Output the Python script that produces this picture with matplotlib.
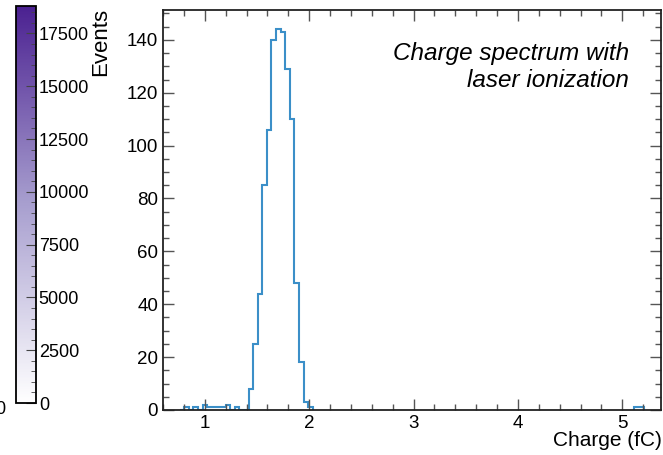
import numpy as np
import matplotlib
matplotlib.use("Agg")
import matplotlib.pyplot as plt
from matplotlib.colors import LinearSegmentedColormap, Normalize
from matplotlib.ticker import MultipleLocator

plt.rcParams['font.family'] = ['Liberation Sans', 'DejaVu Sans']

# histogram contents, bin width 0.044 fC
bin_width = 0.044
first_edge = 0.759
counts = [0, 1, 0, 1, 0, 2, 1, 1, 1, 1, 2, 0, 1, 0, 0,
          8, 25, 44, 85, 106, 140, 144, 143, 129, 110, 48, 18, 3, 1]
tail_edges = [5.115, 5.159, 5.203]
tail_counts = [1, 1]

cbar_max = 18800
cbar_ticks = [0, 2500, 5000, 7500, 10000, 12500, 15000, 17500]

edges = first_edge + bin_width * np.arange(len(counts) + 1)
line_color = '#3b8fc8'

fig = plt.figure(figsize=(6.63, 4.55), dpi=100)
ax = fig.add_axes([163/663, 45/455, 498/663, 400/455])

ax.stairs(counts, edges, color=line_color, lw=1.5, baseline=0)
ax.stairs(tail_counts, tail_edges, color=line_color, lw=1.5, baseline=0)

ax.set_xlim(0.6, 5.37)
ax.set_ylim(0, 151.3)
ax.xaxis.set_major_locator(MultipleLocator(1))
ax.xaxis.set_minor_locator(MultipleLocator(0.2))
ax.yaxis.set_major_locator(MultipleLocator(20))
ax.yaxis.set_minor_locator(MultipleLocator(5))
ax.tick_params(which='both', direction='in', top=True, right=True,
               labelsize=13.5, width=1.0, color='#555555')
ax.tick_params(which='major', length=8)
ax.tick_params(which='minor', length=4)
for s in ax.spines.values():
    s.set_linewidth(1.3)
    s.set_color('#222222')

ax.text(0.935, 0.92, "Charge spectrum with\nlaser ionization", transform=ax.transAxes,
        ha='right', va='top', fontsize=17.5, style='italic', linespacing=1.2)

fig.text(662/663, 1 - 441/455, "Charge (fC)", ha='right', va='center', fontsize=15)
fig.text(101/663, 1 - 42/455, "Events", ha='center', va='center', rotation=90, fontsize=16)
fig.text(-5/663, 1 - 410/455, "0", ha='left', va='center', fontsize=13)

# colour bar on the left
cax = fig.add_axes([16/663, 52/455, 20/663, 397/455])
cmap = LinearSegmentedColormap.from_list('wp', ['#ffffff', '#a89fcf', '#4b2191'])
sm = plt.cm.ScalarMappable(norm=Normalize(0, cbar_max), cmap=cmap)
cb = fig.colorbar(sm, cax=cax, ticks=cbar_ticks)
cb.ax.yaxis.set_minor_locator(MultipleLocator(500))
cb.ax.tick_params(which='both', direction='in', labelsize=13, pad=2, color='#444444')
cb.ax.tick_params(which='major', length=7)
cb.ax.tick_params(which='minor', length=3.5)
cb.outline.set_linewidth(1.3)

fig.savefig("out.png", dpi=100)
